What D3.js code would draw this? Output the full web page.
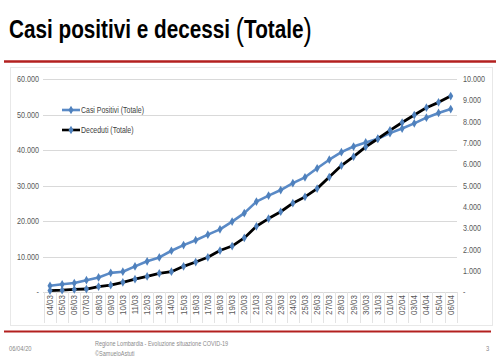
<!DOCTYPE html>
<html>
<head>
<meta charset="utf-8">
<script src="https://cdn.jsdelivr.net/npm/d3@7/dist/d3.min.js"></script>
<style>
  html, body { margin: 0; padding: 0; background: #fff; }
  svg { display: block; }
  text { font-family: "Liberation Sans Narrow", "Arial Narrow", "Liberation Sans", sans-serif; }
</style>
</head>
<body>
<svg id="chart" width="500" height="360"></svg>
<script>
// ---- data ----
const dates = ["04/03","05/03","06/03","07/03","08/03","09/03","10/03","11/03","12/03","13/03",
  "14/03","15/03","16/03","17/03","18/03","19/03","20/03","21/03","22/03","23/03","24/03","25/03",
  "26/03","27/03","28/03","29/03","30/03","31/03","01/04","02/04","03/04","04/04","05/04","06/04"];
const casiPositivi = [1820,2251,2612,3420,4189,5469,5791,7280,8725,9820,11685,13272,14649,16220,
  17713,19884,22264,25515,27206,28761,30703,32346,34889,37298,39415,41007,42161,43208,44773,46065,
  47520,49118,50455,51534];
const deceduti = [80,98,135,154,267,333,468,617,744,890,966,1218,1420,1640,1959,2168,2549,3095,
  3456,3776,4178,4474,4861,5402,5944,6360,6818,7199,7593,7960,8311,8656,8905,9202];
const leftTicks = [0,10000,20000,30000,40000,50000,60000];
const rightTicks = [0,1000,2000,3000,4000,5000,6000,7000,8000,9000,10000];
const seriesNames = ["Casi Positivi (Totale)", "Deceduti (Totale)"];

// ---- layout ----
const svg = d3.select("#chart");
const blue = "#5a8ac6", markerBlue = "#4f81bd", black = "#000";
const fmt = v => v === 0 ? "-" : d3.format(",")(v).replace(/,/g, ".");

// helper: place text at (x,y) horizontally squeezed by factor sx
function placed(sel, xf, yf, sx) {
  return sel.attr("x", 0).attr("y", 0)
    .attr("transform", (d, i) => `translate(${typeof xf === "function" ? xf(d, i) : xf},${typeof yf === "function" ? yf(d, i) : yf}) scale(${sx},1)`);
}
function widthOf(str, size, weight) {
  const t = svg.append("text").attr("font-size", size).attr("font-weight", weight || "normal").text(str);
  const w = t.node().getComputedTextLength();
  t.remove();
  return w;
}

// title, with taller parentheses
const titleSx = 296 / (widthOf("Casi positivi e decessi ", 26, "bold") + widthOf("(Totale)", 26, "bold") + 2);
const title = svg.append("text").attr("font-size", 26).attr("font-weight", "bold").attr("fill", "#000");
placed(title, 9, 38, titleSx);
title.append("tspan").text("Casi positivi e decessi ");
title.append("tspan").attr("font-size", 31).attr("font-weight", "normal").attr("dy", 2).text("(");
title.append("tspan").attr("dy", -2).text("Totale");
title.append("tspan").attr("font-size", 31).attr("font-weight", "normal").attr("dy", 2).text(")");

// red rules
svg.append("line").attr("x1", 4).attr("x2", 496).attr("y1", 61.5).attr("y2", 61.5)
  .attr("stroke", "#b3201f").attr("stroke-width", 2.5);
svg.append("line").attr("x1", 4).attr("x2", 491).attr("y1", 331.5).attr("y2", 331.5)
  .attr("stroke", "#b3201f").attr("stroke-width", 2);

// chart border
svg.append("rect").attr("x", 10.5).attr("y", 67.5).attr("width", 482).attr("height", 258)
  .attr("fill", "none").attr("stroke", "#e8e8e8");

const x = d3.scalePoint().domain(dates).range([50, 450.7]);
const yL = d3.scaleLinear().domain([0, 60000]).range([292.3, 79]);
const yR = d3.scaleLinear().domain([0, 10000]).range([292.3, 79]);
const step = x.step();

// gridlines
svg.append("g").selectAll("line").data(leftTicks.filter(d => d > 0)).join("line")
  .attr("x1", 43).attr("x2", 457)
  .attr("y1", d => Math.round(yL(d)) + 0.5).attr("y2", d => Math.round(yL(d)) + 0.5)
  .attr("stroke", "#d9d9d9").attr("stroke-width", 1);

// x axis baseline + separators
svg.append("line").attr("x1", 43).attr("x2", 457)
  .attr("y1", Math.round(yL(0)) + 0.5).attr("y2", Math.round(yL(0)) + 0.5)
  .attr("stroke", "#d9d9d9");
svg.append("g").selectAll("line").data(dates.concat(["_end"])).join("line")
  .attr("x1", (d, i) => Math.round(50 - step / 2 + i * step) + 0.5)
  .attr("x2", (d, i) => Math.round(50 - step / 2 + i * step) + 0.5)
  .attr("y1", Math.round(yL(0))).attr("y2", 323)
  .attr("stroke", "#e3e3e3");

// axis label squeeze so "60.000" is ~22px wide
const tickSize = 8.4;
const tickSx = 22 / widthOf("60.000", tickSize);

// left axis labels
placed(svg.append("g").selectAll("text").data(leftTicks).join("text"), 39, d => yL(d) + 3, tickSx)
  .attr("text-anchor", "end").attr("font-size", tickSize).attr("fill", "#595959")
  .text(fmt);

// right axis labels
placed(svg.append("g").selectAll("text").data(rightTicks).join("text"), 463, d => yR(d) + 3, tickSx)
  .attr("text-anchor", "start").attr("font-size", tickSize).attr("fill", "#595959")
  .text(fmt);

// x labels
svg.append("g").selectAll("text").data(dates).join("text")
  .attr("transform", d => `translate(${x(d) + 3},295) rotate(-90) scale(0.95,1)`)
  .attr("text-anchor", "end").attr("font-size", 8.4).attr("fill", "#595959")
  .text(d => d);

// lines
const lineC = d3.line().x((d, i) => x(dates[i])).y(d => yL(d));
const lineD = d3.line().x((d, i) => x(dates[i])).y(d => yR(d));
const diamond = d3.symbol().type(d3.symbolDiamond).size(22);

svg.append("path").datum(casiPositivi).attr("d", lineC)
  .attr("fill", "none").attr("stroke", blue).attr("stroke-width", 2.6).attr("stroke-linejoin", "round");
svg.append("g").selectAll("path").data(casiPositivi).join("path")
  .attr("d", diamond).attr("transform", (d, i) => `translate(${x(dates[i])},${yL(d)})`)
  .attr("fill", markerBlue);

svg.append("path").datum(deceduti).attr("d", lineD)
  .attr("fill", "none").attr("stroke", black).attr("stroke-width", 2.8).attr("stroke-linejoin", "round");
svg.append("g").selectAll("path").data(deceduti).join("path")
  .attr("d", diamond).attr("transform", (d, i) => `translate(${x(dates[i])},${yR(d)})`)
  .attr("fill", markerBlue);

// legend
const legend = svg.append("g");
const legSx = 63 / widthOf(seriesNames[0], 8.6);
[[blue, 110], [black, 130]].forEach(([c, ly], i) => {
  legend.append("line").attr("x1", 62).attr("x2", 80).attr("y1", ly).attr("y2", ly)
    .attr("stroke", c).attr("stroke-width", 2.6);
  legend.append("path").attr("d", diamond).attr("transform", `translate(71,${ly})`).attr("fill", markerBlue);
  placed(legend.append("text"), 81, ly + 3, legSx).attr("font-size", 8.6).attr("fill", "#404040")
    .text(seriesNames[i]);
});

// footer
const footSx = 133 / widthOf("Regione Lombardia - Evoluzione situazione COVID-19", 7.2);
placed(svg.append("text"), 9, 351, footSx).attr("font-size", 7.6).attr("fill", "#8a8a8a").text("06/04/20");
placed(svg.append("text"), 95, 346, footSx).attr("font-size", 7.2).attr("fill", "#8a8a8a")
  .text("Regione Lombardia - Evoluzione situazione COVID-19");
placed(svg.append("text"), 95, 356, footSx).attr("font-size", 7.2).attr("fill", "#8a8a8a")
  .text("©SamueloAstuti");
placed(svg.append("text"), 486, 351, footSx).attr("font-size", 7.6).attr("fill", "#8a8a8a").text("3");
</script>
</body>
</html>
